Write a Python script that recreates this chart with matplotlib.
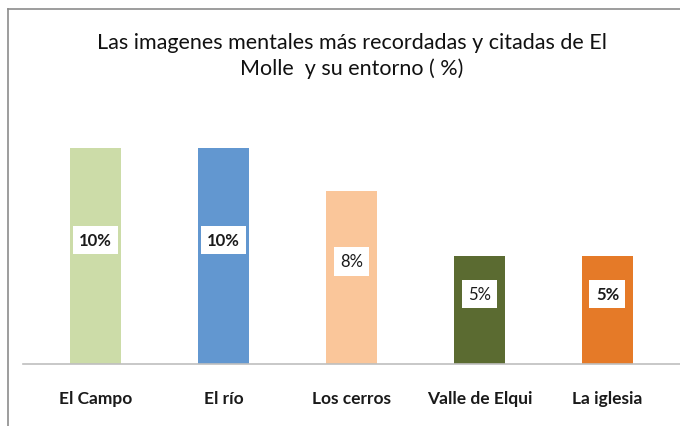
import matplotlib.pyplot as plt
from matplotlib.lines import Line2D

categories = ["El Campo", "El río", "Los cerros", "Valle de Elqui", "La iglesia"]
values = [10, 10, 8, 5, 5]
value_labels = ["10%", "10%", "8%", "5%", "5%"]
label_bold = [True, True, False, False, True]
colors = ["#CCDCA8", "#6297D0", "#FAC69A", "#5B6B31", "#E57A28"]

plt.rcParams["font.family"] = ["Lato", "DejaVu Sans"]

fig = plt.figure(figsize=(6.8, 4.27), dpi=100)
ax = fig.add_axes([23 / 680, 62 / 427, 657 / 680, 259 / 427])

x = range(len(categories))
ax.bar(x, values, width=0.4, color=colors)

# value labels in white boxes, a little above the middle of each bar
for i, (v, lab, b) in enumerate(zip(values, value_labels, label_bold)):
    ax.text(
        i, v / 2 + 0.75, lab,
        ha="center", va="center",
        fontsize=12, color="#1a1a1a",
        fontweight="bold" if b else "normal",
        bbox=dict(facecolor="white", edgecolor="none", pad=4.5),
    )

ax.set_xlim(-0.566, -0.566 + 657 / 128)
ax.set_ylim(0, 12)
ax.set_yticks([])
ax.set_xticks(list(x))
ax.set_xticklabels(categories, fontsize=12.5, fontweight="bold", color="#1a1a1a")
ax.tick_params(axis="x", length=0, pad=19)
for s in ["top", "right", "left"]:
    ax.spines[s].set_visible(False)
ax.spines["bottom"].set_color("#BFBFBF")
ax.spines["bottom"].set_linewidth(1.2)

fig.text(
    352 / 680, 1 - 56 / 427,
    "Las imagenes mentales más recordadas y citadas de El\nMolle  y su entorno ( %)",
    ha="center", va="center", fontsize=15.5, color="#111111",
    linespacing=1.3,
)

# outer chart border (only top and left visible)
fig.add_artist(Line2D([8 / 680, 8 / 680], [0, 1 - 10 / 427], transform=fig.transFigure,
                      color="#8C8C8C", lw=1.2))
fig.add_artist(Line2D([8 / 680, 1], [1 - 10 / 427, 1 - 10 / 427], transform=fig.transFigure,
                      color="#8C8C8C", lw=1.2))

fig.savefig("out.png", dpi=100)
